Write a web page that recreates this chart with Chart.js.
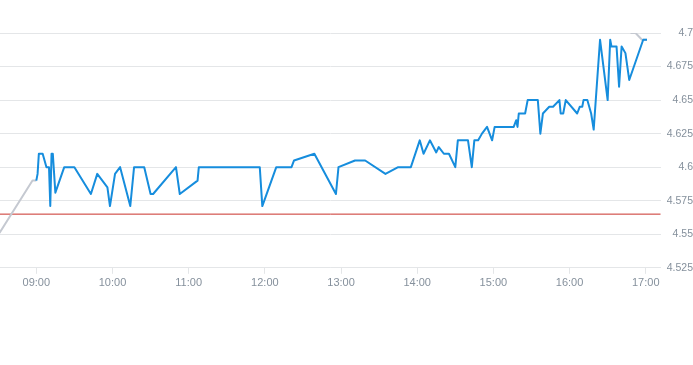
<!DOCTYPE html>
<html>
<head>
<meta charset="utf-8">
<script src="https://cdn.jsdelivr.net/npm/chart.js@4/dist/chart.umd.min.js"></script>
<style>
html,body{margin:0;padding:0;background:#fff;}
#wrap{width:693px;height:365px;position:relative;}
</style>
</head>
<body>
<div id="wrap"><canvas id="c"></canvas></div>
<script>
// ---- data ----
const mainTimes = ["09:00","09:01","09:02","09:05","09:08","09:10","09:11","09:12","09:13","09:15",
  "09:22","09:30","09:43","09:48","09:56","09:58","10:02","10:06","10:14","10:17",
  "10:25","10:30","10:32","10:50","10:53","11:07","11:08","11:56","11:58","12:09",
  "12:21","12:23","12:39","12:56","12:58","13:11","13:19","13:35","13:45","13:55",
  "14:02","14:05","14:10","14:15","14:17","14:21","14:25","14:30","14:32","14:40",
  "14:43","14:45","14:48","14:51","14:55","14:59","15:01","15:16","15:18","15:19",
  "15:20","15:25","15:27","15:35","15:37","15:39","15:44","15:47","15:52","15:53",
  "15:55","15:57","16:06","16:08","16:10","16:11","16:14","16:17","16:19","16:24",
  "16:30","16:32","16:33","16:37","16:39","16:41","16:44","16:47","16:58","17:01"];
const mainValues = [4.59,4.595,4.61,4.61,4.60,4.60,4.571,4.61,4.61,4.581,
  4.60,4.60,4.58,4.595,4.585,4.571,4.595,4.60,4.571,4.60,
  4.60,4.58,4.58,4.60,4.58,4.59,4.60,4.60,4.571,4.60,
  4.60,4.605,4.61,4.58,4.60,4.605,4.605,4.595,4.60,4.60,
  4.62,4.61,4.62,4.611,4.615,4.61,4.61,4.60,4.62,4.62,
  4.60,4.62,4.62,4.625,4.63,4.62,4.63,4.63,4.635,4.63,
  4.64,4.64,4.65,4.65,4.625,4.64,4.645,4.645,4.65,4.64,
  4.64,4.65,4.64,4.645,4.645,4.65,4.65,4.64,4.628,4.695,
  4.65,4.695,4.69,4.69,4.66,4.69,4.685,4.665,4.695,4.695];
const preTimes = ["08:31","08:57","09:00"];
const preValues = [4.551,4.59,4.59];
const postTimes = ["16:48","16:52","16:57","17:01"];
const postValues = [4.70,4.70,4.695,4.695];
const refValue = 4.565;
const xTickLabels = ["09:00","10:00","11:00","12:00","13:00","14:00","15:00","16:00","17:00"];
const yTicks = [4.525,4.55,4.575,4.6,4.625,4.65,4.675,4.7];

// ---- helpers ----
const toMin = s => { const [h,m] = s.split(":").map(Number); return h*60+m; };
const fmt = v => { const h = Math.floor(v/60), m = Math.round(v - h*60); return String(h).padStart(2,"0")+":"+String(m).padStart(2,"0"); };
const pts = (t,v) => t.map((s,i)=>({x:toMin(s), y:v[i]}));

const xMin = 511.4, xMax = 1031.8;
const labelColor = "#85909c";
const gridColor = "#e4e6e8";

new Chart(document.getElementById("c"), {
  type: "line",
  data: {
    datasets: [
      {data: pts(mainTimes, mainValues), borderColor: "#168ddd", borderWidth: 2, borderJoinStyle: "round", pointRadius: 0, tension: 0, order: 1},
      {data: pts(preTimes, preValues), borderColor: "#c5c9d1", borderWidth: 2, borderJoinStyle: "round", pointRadius: 0, tension: 0, order: 2},
      {data: pts(postTimes, postValues), borderColor: "#c5c9d1", borderWidth: 2, borderJoinStyle: "round", pointRadius: 0, tension: 0, order: 2},
      {data: [{x:xMin, y:refValue},{x:xMax, y:refValue}], borderColor: "#c9302a", borderWidth: 1, pointRadius: 0, order: 3}
    ]
  },
  options: {
    responsive: true,
    maintainAspectRatio: false,
    animation: false,
    layout: {padding: {top: 33, bottom: 72, left: 0, right: 0}},
    plugins: {legend: {display: false}, tooltip: {enabled: false}},
    scales: {
      x: {
        type: "linear",
        min: xMin, max: xMax,
        afterBuildTicks: ax => { ax.ticks = xTickLabels.map(s => ({value: toMin(s)})); },
        ticks: {callback: v => fmt(v), color: labelColor, font: {family: "'Liberation Sans', Arial, sans-serif", size: 11}, maxRotation: 0, autoSkip: false, padding: 3},
        grid: {drawOnChartArea: false, drawTicks: true, tickLength: 6, color: gridColor},
        border: {display: true, color: gridColor}
      },
      y: {
        position: "right",
        min: 4.525, max: 4.7,
        afterBuildTicks: ax => { ax.ticks = yTicks.map(v => ({value: v})); },
        ticks: {callback: v => String(parseFloat(Number(v).toFixed(3))), color: labelColor, font: {family: "'Liberation Sans', Arial, sans-serif", size: 10.5}, crossAlign: "far", padding: 3},
        grid: {color: gridColor, drawTicks: false},
        border: {display: false}
      }
    }
  }
});
</script>
</body>
</html>
